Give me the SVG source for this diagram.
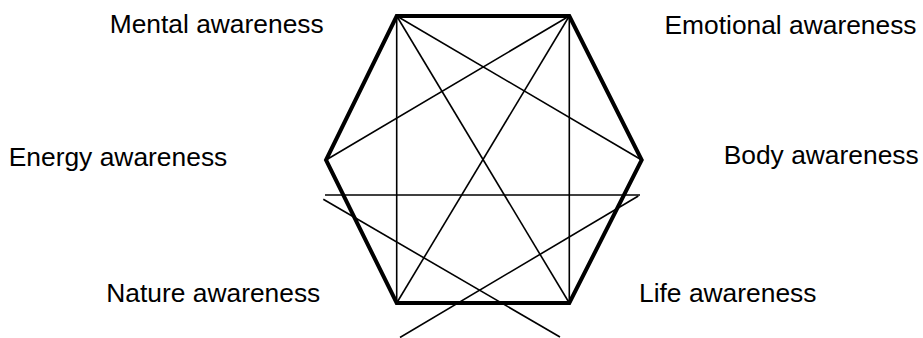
<svg xmlns="http://www.w3.org/2000/svg" width="923" height="338" viewBox="0 0 923 338">
<style>
  .lbl { font-family: "Liberation Sans", Arial, sans-serif; font-size: 25px; fill: #000; }
  .thick { fill: none; stroke: #000; stroke-width: 4; stroke-linejoin: miter; }
  .thin { fill: none; stroke: #000; stroke-width: 1.6; }
</style>
<rect width="923" height="338" fill="#fff"/>
<g id="connectors">
  <polygon class="thick" points="396.7,16 569.3,16 641.7,160 569.3,303 396.7,303 326,160"/>
  <line class="thin" x1="396.7" y1="16" x2="396.7" y2="303"/>
  <line class="thin" x1="569.3" y1="16" x2="569.3" y2="303"/>
  <line class="thin" x1="396.7" y1="16" x2="641.7" y2="160"/>
  <line class="thin" x1="396.7" y1="16" x2="569.3" y2="303"/>
  <line class="thin" x1="569.3" y1="16" x2="326" y2="160"/>
  <line class="thin" x1="569.3" y1="16" x2="396.7" y2="303"/>
  <line class="thin" x1="325" y1="195" x2="640" y2="195"/>
  <line class="thin" x1="323.3" y1="199.3" x2="560" y2="337"/>
  <line class="thin" x1="638.3" y1="196" x2="400" y2="337.5"/>
</g>
<g id="mental"><text class="lbl" x="109.7" y="33.3" textLength="214" lengthAdjust="spacingAndGlyphs">Mental awareness</text></g>
<g id="emotional"><text class="lbl" x="664.5" y="33.5" textLength="252" lengthAdjust="spacingAndGlyphs">Emotional awareness</text></g>
<g id="energy"><text class="lbl" x="8.7" y="165.6" textLength="218.6" lengthAdjust="spacingAndGlyphs">Energy awareness</text></g>
<g id="body"><text class="lbl" x="723.7" y="164" textLength="195" lengthAdjust="spacingAndGlyphs">Body awareness</text></g>
<g id="nature"><text class="lbl" x="106.3" y="301.6" textLength="214" lengthAdjust="spacingAndGlyphs">Nature awareness</text></g>
<g id="life"><text class="lbl" x="639" y="301.5" textLength="177.5" lengthAdjust="spacingAndGlyphs">Life awareness</text></g>
</svg>
